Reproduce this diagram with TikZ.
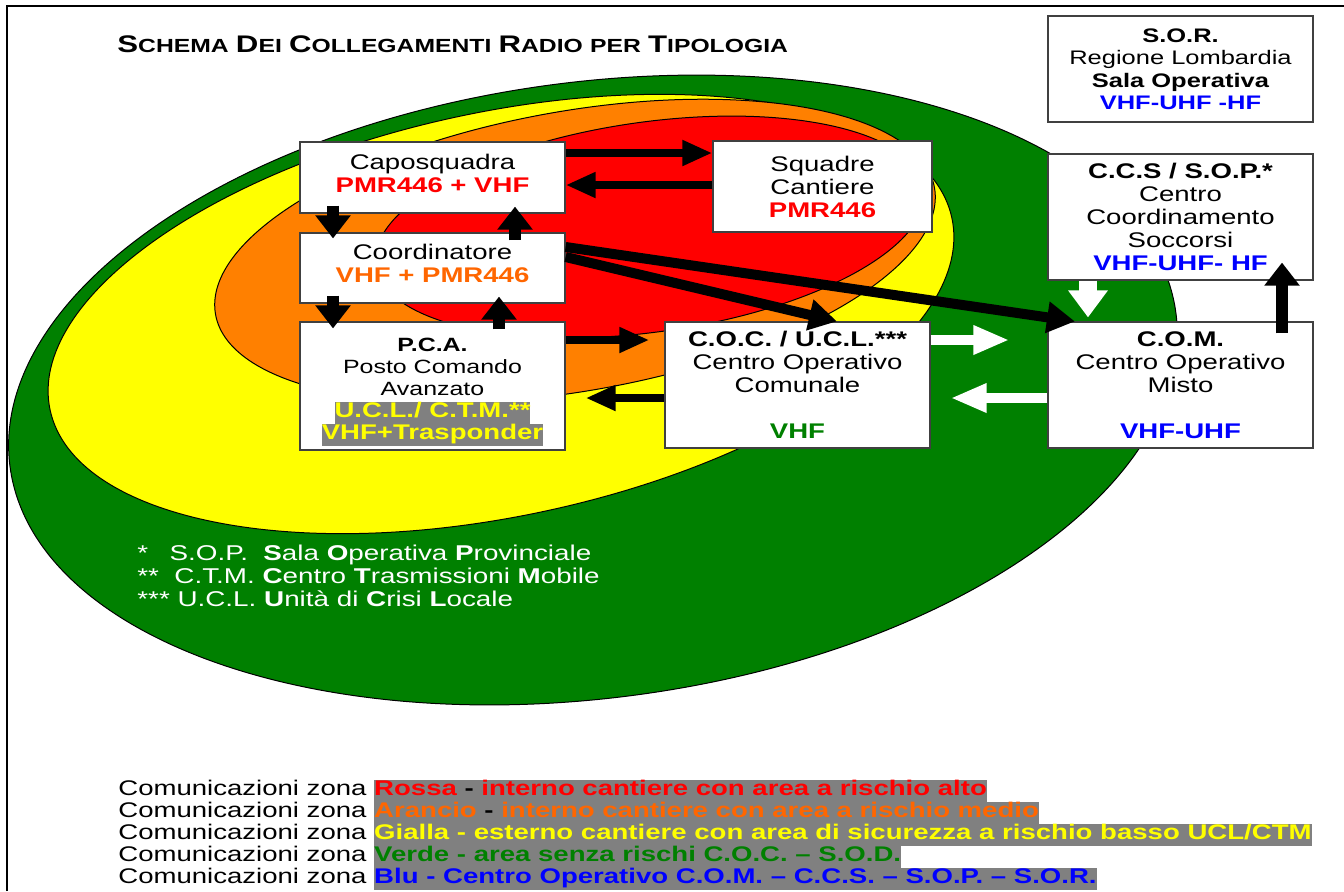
\documentclass[tikz,border=0pt]{standalone}
\usepackage{fontspec}
\setmainfont{Liberation Sans}[FakeStretch=1.3]
\usepackage{tikz}
\usetikzlibrary{arrows.meta,positioning,calc}
\definecolor{zred}{HTML}{FF0000}
\definecolor{zorange}{HTML}{FF8000}
\definecolor{zyellow}{HTML}{FFFF00}
\definecolor{zgreen}{HTML}{008000}
\definecolor{tred}{HTML}{FF0000}
\definecolor{torange}{HTML}{FF6600}
\definecolor{tgreen}{HTML}{008000}
\definecolor{tblue}{HTML}{0000FF}
\definecolor{tyellow}{HTML}{FFFF00}
\definecolor{hlgray}{HTML}{808080}
\definecolor{boxline}{HTML}{404040}
\newcommand\hl[1]{{\setlength\fboxsep{0pt}\colorbox{hlgray}{\strut#1}}}
\newcommand\tsc[2]{{\fontsize{12}{12}\selectfont#1}{\fontsize{9.5}{12}\selectfont#2}}
\newcommand\boxfont{\fontsize{10.6}{11.5}\selectfont}
\newcommand\tightlines{\setlength\lineskiplimit{-10pt}}
\tikzset{
  zone/.style={draw=black, line width=0.5pt},
  radiobox/.style={
    draw=boxline, fill=white, line width=0.6pt,
    align=center, inner sep=0pt, font=\boxfont
  },
  blkh/.style={draw=black, line width=4pt, -{Triangle[length=15pt,width=12pt]}},
  blkv/.style={draw=black, line width=6pt, -{Triangle[length=11.5pt,width=17pt]}},
  blkd/.style={draw=black, line width=5pt, -{Triangle[length=14pt,width=15pt]}},
  whth/.style={draw=white, line width=5pt, -{Triangle[length=18pt,width=13.5pt]}},
  whtv/.style={draw=white, line width=9pt, -{Triangle[length=13.5pt,width=19pt]}}
}

\begin{document}
\begin{tikzpicture}[x=0.5pt,y=0.5pt]
  \useasboundingbox (0,0) rectangle (1344,-891);
  \fill[white] (0,0) rectangle (1344,-891);
  \draw[line width=1pt] (7,-891) -- (7,-6) -- (1344,-6);

  % zone
  \draw[zone, fill=zgreen, rotate around={7.5:(593,-390)}] (593,-390) ellipse[x radius=588, y radius=308];
  \draw[zone, fill=zyellow, rotate around={12:(501,-314)}] (501,-314) ellipse[x radius=461, y radius=202];
  \draw[zone, fill=zorange, rotate around={10:(575,-251)}] (575,-251) ellipse[x radius=365, y radius=140];
  \draw[zone, fill=zred, rotate around={8:(650,-227)}] (650,-227) ellipse[x radius=277, y radius=105];

  \node[anchor=west, inner sep=0pt, font=\bfseries] (title) at (117,-44)
    {\tsc{S}{CHEMA} \tsc{D}{EI} \tsc{C}{OLLEGAMENTI} \tsc{R}{ADIO} \tsc{}{PER} \tsc{T}{IPOLOGIA}};

  % boxes
  \node[radiobox, minimum width=132.5pt, minimum height=35.5pt] (capo) at (432.5,-177.5)
    {Caposquadra\\\textcolor{tred}{\textbf{PMR446 + VHF}}\rule[-4pt]{0pt}{1pt}};
  \node[radiobox, minimum width=132.5pt, minimum height=35pt] (coord) at (432.5,-268)
    {Coordinatore\\\textcolor{torange}{\textbf{VHF + PMR446}}\rule[-5pt]{0pt}{1pt}};
  \node[radiobox, minimum width=132.5pt, minimum height=64pt,
        font=\fontsize{9.6}{11}\selectfont\tightlines] (pca) at (432.5,-386)
    {\rule{0pt}{12.7pt}\textbf{P.C.A.}\\Posto Comando\\Avanzato\\
     \fontsize{10.6}{11}\selectfont\textcolor{tyellow}{\textbf{\hl{U.C.L./ C.T.M.**}}}\\
     \fontsize{10.6}{11}\selectfont\textcolor{tyellow}{\textbf{\hl{VHF+Trasponder}}}};
  \node[radiobox, minimum width=109.5pt, minimum height=45.5pt] (squadre) at (822.5,-186.5)
    {Squadre\\Cantiere\\\textcolor{tred}{\textbf{PMR446}}};
  \node[radiobox, minimum width=132.5pt, minimum height=63pt] (coc) at (797.5,-385)
    {\textbf{C.O.C. / U.C.L.***}\\Centro Operativo\\Comunale\\[11.5pt]\textcolor{tgreen}{\textbf{VHF}}};
  \node[radiobox, minimum width=132.5pt, minimum height=63pt] (com) at (1180.5,-385)
    {\textbf{C.O.M.}\\Centro Operativo\\Misto\\[11.5pt]\textcolor{tblue}{\textbf{VHF-UHF}}};
  \node[radiobox, minimum width=132.5pt, minimum height=63pt] (ccs) at (1180.5,-217)
    {\textbf{C.C.S / S.O.P.*}\\Centro\\Coordinamento\\Soccorsi\\\textcolor{tblue}{\textbf{VHF-UHF- HF}}};
  \node[radiobox, minimum width=132.5pt, minimum height=53pt, font=\fontsize{9.8}{11.25}\selectfont] (sor) at (1180.5,-69)
    {\textbf{S.O.R.}\\Regione Lombardia\\\textbf{Sala Operativa}\\\textcolor{tblue}{\textbf{VHF-UHF -HF}}};

  % black links
  \coordinate (cs1) at ([yshift=12.25pt]capo.east);
  \draw[blkh] (cs1) -- (cs1 -| squadre.west);
  \coordinate (sc1) at ([yshift=0.75pt]squadre.west);
  \draw[blkh] (sc1) -- (sc1 -| capo.east);
  \coordinate (cd1) at ([xshift=-49.75pt]capo.south);
  \draw[blkv, shorten <=-4pt, shorten >=-3pt] (cd1) -- (cd1 |- coord.north);
  \coordinate (dc1) at ([xshift=41.25pt]coord.north);
  \draw[blkv, shorten <=-4pt, shorten >=-3.5pt] (dc1) -- (dc1 |- capo.south);
  \coordinate (dp1) at ([xshift=-49.75pt]coord.south);
  \draw[blkv, shorten <=-4pt, shorten >=-3.5pt] (dp1) -- (dp1 |- pca.north);
  \coordinate (pd1) at ([xshift=33.25pt]pca.north);
  \draw[blkv, shorten <=-4pt, shorten >=-3.5pt] (pd1) -- (pd1 |- coord.south);
  \coordinate (pc1) at ([yshift=23pt]pca.east);
  \draw[blkh, shorten >=7.5pt] (pc1) -- (pc1 -| coc.west);
  \coordinate (cp1) at ([yshift=-6.5pt]coc.west);
  \draw[blkh, shorten >=10pt] (cp1) -- (cp1 -| pca.east);
  \draw[blkd] ([yshift=5.5pt]coord.east) -- ([xshift=19.75pt]coc.north);
  \draw[blkd] ([yshift=10.5pt]coord.east) -- ([xshift=-52.75pt]com.north);
  \coordinate (ms1) at ([xshift=50.75pt]com.north);
  \draw[blkv, shorten <=-6pt, shorten >=-9pt] (ms1) -- (ms1 |- ccs.south);

  % white links
  \coordinate (cm1) at ([yshift=22.5pt]coc.east);
  \draw[whth, shorten >=19pt] (cm1) -- (cm1 -| com.west);
  \coordinate (mc1) at ([yshift=-6.5pt]com.west);
  \draw[whth, shorten >=10pt] (mc1) -- (mc1 -| coc.east);
  \coordinate (sm1) at ([xshift=-46.25pt]ccs.south);
  \draw[whtv, shorten >=2pt] (sm1) -- (sm1 |- com.north);

  % notes
  \node[anchor=north west, align=left, text=white, inner sep=0pt,
        font=\fontsize{10.7}{11.5}\selectfont] (notes) at (137,-545)
    {*\quad S.O.P.\ \ \textbf{S}ala \textbf{O}perativa \textbf{P}rovinciale\\
     **\ \ C.T.M. \textbf{C}entro \textbf{T}rasmissioni \textbf{M}obile\\
     *** U.C.L. \textbf{U}nit\`a di \textbf{C}risi \textbf{L}ocale};

  \node[anchor=north west, align=left, inner sep=0pt,
        font=\fontsize{10.6}{11}\selectfont\tightlines] (zones) at (118,-780)
    {Comunicazioni zona \hl{\textbf{\textcolor{tred}{Rossa} - \textcolor{tred}{interno cantiere con area a rischio alto}}}\\
     Comunicazioni zona \hl{\textbf{\textcolor{torange}{Arancio} - \textcolor{torange}{interno cantiere con area a rischio medio}}}\\
     Comunicazioni zona \hl{\textbf{\textcolor{tyellow}{Gialla - esterno cantiere con area di sicurezza a rischio basso UCL/CTM}}}\\
     Comunicazioni zona \hl{\textbf{\textcolor{tgreen}{Verde - area senza rischi C.O.C. – S.O.D.}}}\\
     Comunicazioni zona \hl{\textbf{\textcolor{tblue}{Blu - Centro Operativo C.O.M. – C.C.S. – S.O.P. – S.O.R.}}}};
\end{tikzpicture}
\end{document}
